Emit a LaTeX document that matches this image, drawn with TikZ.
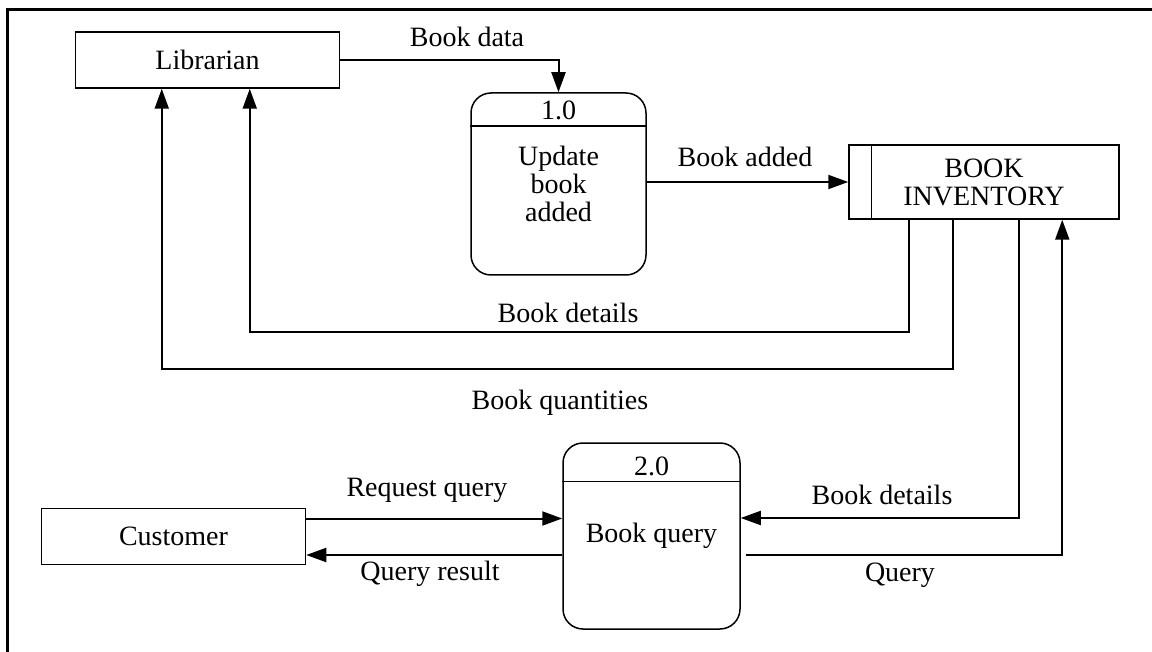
\documentclass[tikz,border=0pt]{standalone}
\usepackage{fontspec}
\setmainfont{Liberation Serif}
\usepackage{tikz}
\usetikzlibrary{arrows.meta, positioning, calc}

\tikzset{
  entity/.style={draw, line width=0.75pt, minimum width=132pt, minimum height=28pt, inner sep=0pt},
  process/.style={draw, line width=0.75pt, rounded corners=10pt, inner sep=0pt, align=center},
  store/.style={draw, line width=0.75pt, minimum width=135pt, minimum height=37pt, inner sep=0pt, align=center},
  flow/.style={line width=1pt, -{Triangle[length=10pt, width=7pt]}},
  lbl/.style={inner sep=1pt},
}

\begin{document}
\begin{tikzpicture}[x=0.5pt, y=-0.5pt, font=\fontsize{14}{14}\selectfont]
    \useasboundingbox (0,0) rectangle (1152,652);

    % page frame
    \draw[line width=1.5pt] (7,652) -- (7,10) -- (1152,10);

    % external entities
    \node[entity] (lib) at (207.5,60) {Librarian};
    \node[entity] (cust) at (173.5,536.5) {Customer};

    % processes
    \node[process, minimum width=87.5pt, minimum height=91pt] (p1) at (558.5,184) {Update\\book\\added};
    \node (p1num) at ([yshift=-9pt]p1.north) {1.0};
    \draw[line width=0.75pt] ([yshift=-17pt]p1.north west) -- ([yshift=-17pt]p1.north east);

    \node[process, minimum width=88.5pt, minimum height=93pt] (p2) at (651.5,536) {Book query};
    \node (p2num) at ([yshift=-12pt]p2.north) {2.0};
    \draw[line width=0.75pt] ([yshift=-19.5pt]p2.north west) -- ([yshift=-19.5pt]p2.north east);

    % data store
    \node[store] (inv) at (984,182) {BOOK\\INVENTORY};
    \draw[line width=0.75pt] ([xshift=11.5pt]inv.north west) -- ([xshift=11.5pt]inv.south west);

    % flows
    \draw[flow] (lib.east) -| (p1.north);
    \draw[flow] (p1.east |- inv.west) -- (inv.west);
    \draw[flow] ([xshift=30.5pt]inv.south west) -- ++(0,112) -| ([xshift=87.5pt]lib.south west);
    \draw[flow] ([xshift=52.5pt]inv.south west) -- ++(0,149) -| ([xshift=43.5pt]lib.south west);
    \draw[flow] ([xshift=85.5pt]inv.south west) |- ([yshift=9pt]p2.east);
    \draw[flow] ([yshift=-9.5pt,xshift=2.5pt]p2.east) -| ([xshift=107pt]inv.south west);
    \draw[flow] ([yshift=9pt]cust.east) -- ([yshift=9pt]cust.east -| p2.west);
    \draw[flow] ([yshift=-9.5pt]p2.west) -- ([yshift=-9.5pt]p2.west -| cust.east);

    % flow labels
    \node[lbl] (ldata) at (467,37) {Book data};
    \node[lbl] (ladded) at (745,157) {Book added};
    \node[lbl] (ldet1) at (568,313) {Book details};
    \node[lbl] (lqty) at (560,403) {Book quantities};
    \node[lbl] (lreq) at (427,490) {Request query};
    \node[lbl] (lres) at (430,574) {Query result};
    \node[lbl] (ldet2) at (882,495) {Book details};
    \node[lbl] (lquery) at (900,575) {Query};
\end{tikzpicture}
\end{document}
